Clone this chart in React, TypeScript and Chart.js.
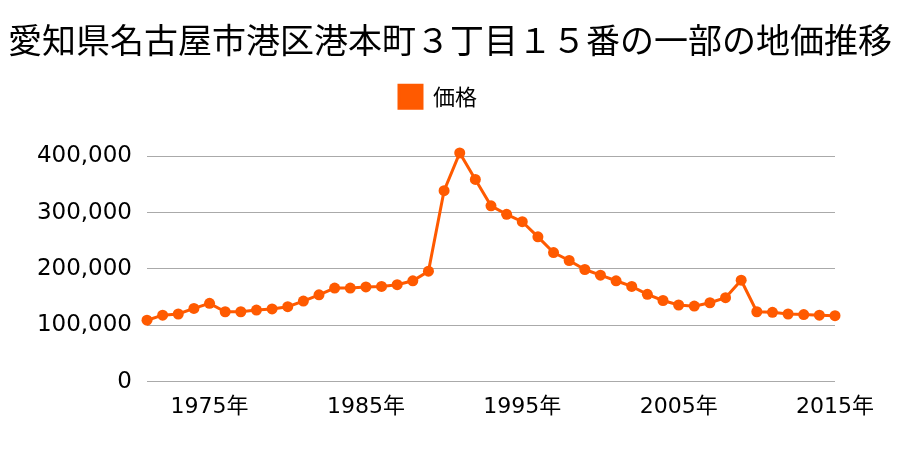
import React, { useEffect, useRef } from "react";
import { Chart, registerables } from "chart.js";

Chart.register(...registerables);

const titleText = "愛知県名古屋市港区港本町３丁目１５番の一部の地価推移";
const seriesName = "価格";

const years = [
  1971, 1972, 1973, 1974, 1975, 1976, 1977, 1978, 1979, 1980,
  1981, 1982, 1983, 1984, 1985, 1986, 1987, 1988, 1989, 1990,
  1991, 1992, 1993, 1994, 1995, 1996, 1997, 1998, 1999, 2000,
  2001, 2002, 2003, 2004, 2005, 2006, 2007, 2008, 2009, 2010,
  2011, 2012, 2013, 2014, 2015,
];

const prices = [
  109000, 118000, 120000, 130000, 139000, 124000, 124000, 127000, 129000, 133000,
  143000, 154000, 166000, 166000, 168000, 169000, 172000, 179000, 196000, 339000,
  406000, 359000, 312000, 297000, 284000, 257000, 229000, 215000, 199000, 189000,
  179000, 169000, 155000, 144000, 136000, 134000, 140000, 149000, 180000, 124000,
  123000, 120000, 119000, 118000, 117000,
];

const xTickYears = [1975, 1985, 1995, 2005, 2015];
const yTickValues = [0, 100000, 200000, 300000, 400000];

const ORANGE = "#ff5a00";
const NUM_FONT = "'DejaVu Sans', 'Noto Sans CJK JP', sans-serif";
const CJK_FONT = "'Noto Sans CJK JP', sans-serif";

const legendShift = {
  id: "legendShift",
  afterLayout(chart: any) {
    const l = chart.legend;
    if (l) {
      l.left -= 12;
      l.right -= 12;
    }
  },
};

export default function App() {
  const canvasRef = useRef<HTMLCanvasElement | null>(null);

  useEffect(() => {
    const canvas = canvasRef.current;
    if (!canvas) return;
    const chart = new Chart(canvas, {
      type: "line",
      data: {
        labels: years.map((y) => String(y)),
        datasets: [
          {
            label: seriesName,
            data: prices,
            borderColor: ORANGE,
            backgroundColor: ORANGE,
            pointBackgroundColor: ORANGE,
            pointBorderColor: ORANGE,
            borderWidth: 3,
            pointRadius: 5.5,
            pointBorderWidth: 0,
            tension: 0,
            clip: false,
            yAxisID: "y",
          },
        ],
      },
      plugins: [legendShift],
      options: {
        responsive: false,
        animation: false,
        color: "#000",
        layout: { padding: { left: 0, right: 0, top: 0, bottom: 18 } },
        plugins: {
          title: {
            display: true,
            text: titleText,
            color: "#000",
            font: { family: CJK_FONT, size: 34, weight: "normal" },
            padding: { top: 20, bottom: 0 },
          },
          legend: {
            display: true,
            labels: {
              boxWidth: 23,
              boxHeight: 23,
              padding: 24.5,
              color: "#000",
              font: { family: CJK_FONT, size: 22 },
            },
          },
          subtitle: {
            display: true,
            text: " ",
            weight: 500,
            font: { size: 10 },
            padding: { top: 26, bottom: 0 },
          } as any,
          tooltip: { enabled: false },
        },
        scales: {
          x: {
            type: "category",
            offset: false,
            grid: { display: false, drawTicks: false },
            border: { display: false },
            ticks: {
              autoSkip: false,
              maxRotation: 0,
              padding: 12,
              color: "#000",
              font: { family: NUM_FONT, size: 22 },
              callback: (_v: any, i: number) =>
                xTickYears.includes(years[i]) ? `${years[i]}年` : "",
            },
          },
          y: {
            position: "left",
            min: yTickValues[0],
            max: yTickValues[yTickValues.length - 1],
            grid: { color: "#aaaaaa", lineWidth: 1, drawTicks: false },
            border: { display: false },
            afterFit: (scale: any) => {
              scale.width = 147;
            },
            afterBuildTicks: (scale: any) => {
              scale.ticks = yTickValues.map((v) => ({ value: v }));
            },
            ticks: {
              padding: 15,
              color: "#000",
              font: { family: NUM_FONT, size: 23 },
              callback: (v: any) => Number(v).toLocaleString("en-US"),
            },
          },
          yRight: {
            type: "linear",
            position: "right",
            display: true,
            grid: { display: false, drawTicks: false },
            border: { display: false },
            ticks: { display: false },
            afterFit: (scale: any) => {
              scale.width = 65;
            },
          },
        },
      },
    });
    return () => chart.destroy();
  }, []);

  return (
    <div style={{ position: "fixed", left: 0, top: 0, width: 900, height: 450, background: "#fff" }}>
      <canvas ref={canvasRef} width={900} height={450} style={{ width: 900, height: 450 }} />
    </div>
  );
}
